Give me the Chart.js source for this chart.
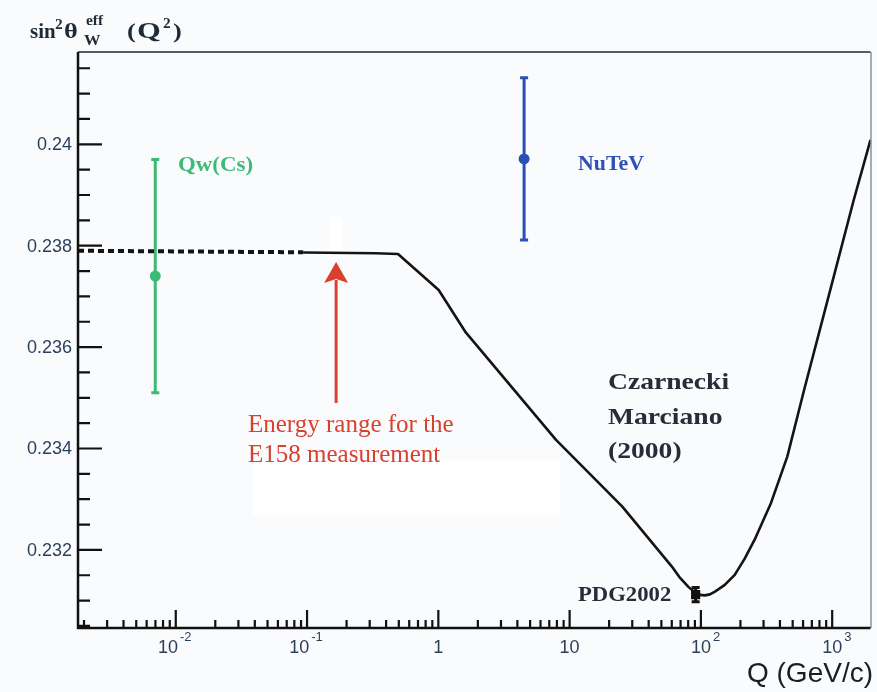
<!DOCTYPE html>
<html>
<head>
<meta charset="utf-8">
<script src="https://cdn.jsdelivr.net/npm/chart.js@4.4.1/dist/chart.umd.min.js"></script>
<style>
  html, body { margin: 0; padding: 0; background: #fafbfd; }
  #wrap { position: relative; width: 877px; height: 692px; }
</style>
</head>
<body>
<div id="wrap"><canvas id="chart"></canvas></div>
<script>
// Czarnecki & Marciano (2000) running of sin^2(theta_W)
const lowQ = [0.0018, 0.0933];              // dashed extrapolation
const lowS = [0.23790, 0.23787];
const curveQ = [0.0933, 0.332, 0.493, 1.006, 1.618, 7.88, 25.2, 60.1, 69.4, 80.3,
  90.2, 98.5, 107, 117, 128, 152, 181, 215, 256, 342, 455, 611, 995, 1459, 1958];
const curveS = [0.237866, 0.237851, 0.237837, 0.237127, 0.236289, 0.234169, 0.232854,
  0.231671, 0.231448, 0.231271, 0.231160, 0.231113, 0.231103, 0.231123, 0.231178,
  0.231310, 0.231507, 0.231822, 0.232197, 0.232927, 0.233840, 0.235155, 0.237253,
  0.238902, 0.240085];

// measurements
const pointNames = ["Qw(Cs)", "NuTeV", "PDG2002"];
const pointQ = [0.00698, 4.5, 91.19];
const pointS = [0.23740, 0.23971, 0.23112];
const pointErr = [0.0023, 0.0016, 0.00014];
const pointColors = ["#3dba74", "#2c4fb5", "#111111"];

// axes
const xMin = 0.0018, xMax = 1958;
const yMin = 0.23046, yMax = 0.24182;
const xMajor = [0.01, 0.1, 1, 10, 100, 1000];
const xLabels = [["10", "-2"], ["10", "-1"], ["1", ""], ["10", ""], ["10", "2"], ["10", "3"]];
const yMajor = [0.232, 0.234, 0.236, 0.238, 0.24];
const yLabels = ["0.232", "0.234", "0.236", "0.238", "0.24"];

// E158 arrow (Q, from, to)
const arrowQ = 0.1665, arrowFrom = 0.2349, arrowTo = 0.23768;

function drawText(ctx, str, x, y, font, color, sx, align) {
  ctx.save();
  ctx.font = font;
  ctx.fillStyle = color;
  ctx.textAlign = align || "left";
  ctx.textBaseline = "alphabetic";
  ctx.translate(x, y);
  ctx.scale(sx || 1, 1);
  ctx.fillText(str, 0, 0);
  ctx.restore();
}

const serif = "'Liberation Serif', 'Times New Roman', serif";
const sans = "'Liberation Sans', Arial, sans-serif";

/**
 * Background patches and error bars (under the markers)
 */
const underPlugin = {
  id: "under",
  beforeDatasetsDraw(chart) {
    const { ctx, scales: { x, y } } = chart;
    ctx.save();
    ctx.fillStyle = "#ffffff";
    ctx.fillRect(253, 460, 307, 55);
    ctx.fillRect(330, 217, 13, 36);

    pointQ.forEach((q, i) => {
      const px = x.getPixelForValue(q);
      const top = y.getPixelForValue(pointS[i] + pointErr[i]);
      const bot = y.getPixelForValue(pointS[i] - pointErr[i]);
      ctx.strokeStyle = pointColors[i];
      ctx.lineWidth = 3;
      ctx.beginPath();
      ctx.moveTo(px, top); ctx.lineTo(px, bot);
      ctx.moveTo(px - 4, top); ctx.lineTo(px + 4, top);
      ctx.moveTo(px - 4, bot); ctx.lineTo(px + 4, bot);
      ctx.stroke();
    });
    ctx.restore();
  },
};

/**
 * ROOT-style frame, ticks, labels and annotations
 */
const axesPlugin = {
  id: "rootAxes",
  afterDatasetsDraw(chart) {
    const { ctx, chartArea: a, scales: { x, y } } = chart;
    ctx.save();

    // top and right frame
    ctx.strokeStyle = "#5c5c5c";
    ctx.lineWidth = 2;
    ctx.beginPath();
    ctx.moveTo(a.left, a.top); ctx.lineTo(a.right, a.top);
    ctx.stroke();
    ctx.lineWidth = 1;
    ctx.beginPath();
    ctx.moveTo(a.right + 0.5, a.top); ctx.lineTo(a.right + 0.5, a.bottom);
    ctx.stroke();

    // axes
    ctx.strokeStyle = "#111";
    ctx.lineWidth = 2.5;
    ctx.beginPath();
    ctx.moveTo(a.left, a.top); ctx.lineTo(a.left, a.bottom);
    ctx.lineTo(a.right, a.bottom);
    ctx.stroke();

    // y ticks
    ctx.lineWidth = 2.2;
    ctx.beginPath();
    for (let v = 0.2305; v <= yMax + 1e-9; v += 0.0005) {
      const py = y.getPixelForValue(v);
      if (py < a.top || py > a.bottom - 2) continue;
      const major = yMajor.some((m) => Math.abs(m - v) < 1e-7);
      ctx.moveTo(a.left, py);
      ctx.lineTo(a.left + (major ? 24 : 12), py);
    }
    // x ticks
    for (let d = 0.001; d <= 1000; d *= 10) {
      for (let k = 1; k <= 9; k++) {
        const v = k * d;
        if (v < xMin || v > xMax) continue;
        const px = x.getPixelForValue(v);
        ctx.moveTo(px, a.bottom);
        ctx.lineTo(px, a.bottom - (k === 1 ? 18 : 8));
      }
    }
    ctx.stroke();

    // y labels
    yMajor.forEach((v, i) => {
      const py = y.getPixelForValue(v);
      ctx.font = "18px " + sans;
      ctx.fillStyle = "#2c3f5a";
      ctx.textAlign = "right";
      ctx.textBaseline = "middle";
      ctx.fillText(yLabels[i], 72, py + 1);
    });

    // x labels, 10 with exponent
    ctx.textBaseline = "alphabetic";
    ctx.textAlign = "left";
    xMajor.forEach((v, i) => {
      const px = x.getPixelForValue(v);
      const [base, ex] = xLabels[i];
      ctx.font = "18px " + sans;
      const wb = ctx.measureText(base).width;
      ctx.font = "13px " + sans;
      const we = ex ? ctx.measureText(ex).width : 0;
      const start = px - wb / 2 - (ex.startsWith("-") ? we / 2 + 2 : 0);
      ctx.fillStyle = "#2c3f5a";
      ctx.font = "18px " + sans;
      ctx.fillText(base, start, 653);
      if (ex) {
        ctx.font = "13px " + sans;
        ctx.fillText(ex, start + wb + 2, 641);
      }
    });

    // axis titles
    drawText(ctx, "Q (GeV/c)", 873, 682, "28px " + sans, "#1c1c24", 1, "right");
    const tc = "#1e2a36";
    drawText(ctx, "sin", 30, 38, "bold 22px " + serif, tc, 0.95);
    drawText(ctx, "2", 55, 29, "bold 14px " + serif, tc, 1.1);
    drawText(ctx, "\u03b8", 64, 38, "bold 22px " + serif, tc, 1.2);
    drawText(ctx, "eff", 86, 25, "bold 14px " + serif, tc, 1.1);
    drawText(ctx, "W", 84, 45, "bold 15px " + serif, tc, 1.1);
    drawText(ctx, "(", 127, 38, "bold 22px " + serif, tc, 1.2);
    drawText(ctx, "Q", 137, 38, "bold 23px " + serif, tc, 1.33);
    drawText(ctx, "2", 163, 28, "bold 14px " + serif, tc, 1.1);
    drawText(ctx, ")", 173, 38, "bold 22px " + serif, tc, 1.2);

    // point labels
    drawText(ctx, pointNames[0], 178, 171, "bold 21px " + serif, "#3dbb78", 1.09);
    drawText(ctx, pointNames[1], 578, 170, "bold 21px " + serif, "#2f50b4", 1.04);
    drawText(ctx, pointNames[2], 578, 601, "bold 21px " + serif, "#262d38", 1.08);

    // theory label
    ["Czarnecki", "Marciano", "(2000)"].forEach((s, i) => {
      drawText(ctx, s, 608, 389 + i * 34.5, "bold 24px " + serif, "#262d38", 1.15);
    });

    // E158 arrow and text
    const ax = x.getPixelForValue(arrowQ);
    const ay0 = y.getPixelForValue(arrowFrom);
    const ay1 = y.getPixelForValue(arrowTo);
    ctx.strokeStyle = "#d9402e";
    ctx.fillStyle = "#d9402e";
    ctx.lineWidth = 3;
    ctx.beginPath();
    ctx.moveTo(ax, ay0); ctx.lineTo(ax, ay1 + 18);
    ctx.stroke();
    ctx.beginPath();
    ctx.moveTo(ax, ay1);
    ctx.lineTo(ax - 12, ay1 + 21);
    ctx.lineTo(ax, ay1 + 17);
    ctx.lineTo(ax + 12, ay1 + 21);
    ctx.closePath();
    ctx.fill();
    drawText(ctx, "Energy range for the", 248, 431.5, "25px " + serif, "#d9402e", 1);
    drawText(ctx, "E158 measurement", 248, 461.5, "25px " + serif, "#d9402e", 1);

    ctx.restore();
  },
};

new Chart(document.getElementById("chart"), {
  type: "scatter",
  data: {
    datasets: [
      {
        label: "markers",
        data: pointQ.map((q, i) => ({ x: q, y: pointS[i] })),
        pointBackgroundColor: pointColors,
        pointBorderColor: pointColors,
        pointBorderWidth: 0,
        pointStyle: ["circle", "circle", "rect"],
        pointRadius: [5.5, 5.5, 6.5],
        showLine: false,
      },
      {
        label: "Czarnecki Marciano (2000)",
        data: curveQ.map((q, i) => ({ x: q, y: curveS[i] })),
        showLine: true,
        borderColor: "#141414",
        borderWidth: 2.6,
        pointRadius: 0,
        tension: 0,
        borderJoinStyle: "round",
      },
      {
        label: "extrapolation",
        data: lowQ.map((q, i) => ({ x: q, y: lowS[i] })),
        showLine: true,
        borderColor: "#141414",
        borderWidth: 4,
        borderDash: [6, 4],
        pointRadius: 0,
      },
    ],
  },
  options: {
    responsive: true,
    maintainAspectRatio: false,
    animation: false,
    events: [],
    layout: { padding: { left: 78, top: 52, right: 1, bottom: 64 } },
    plugins: { legend: { display: false }, tooltip: { enabled: false } },
    scales: {
      x: { type: "logarithmic", min: xMin, max: xMax, display: false },
      y: { type: "linear", min: yMin, max: yMax, display: false },
    },
  },
  plugins: [underPlugin, axesPlugin],
});
</script>
</body>
</html>
